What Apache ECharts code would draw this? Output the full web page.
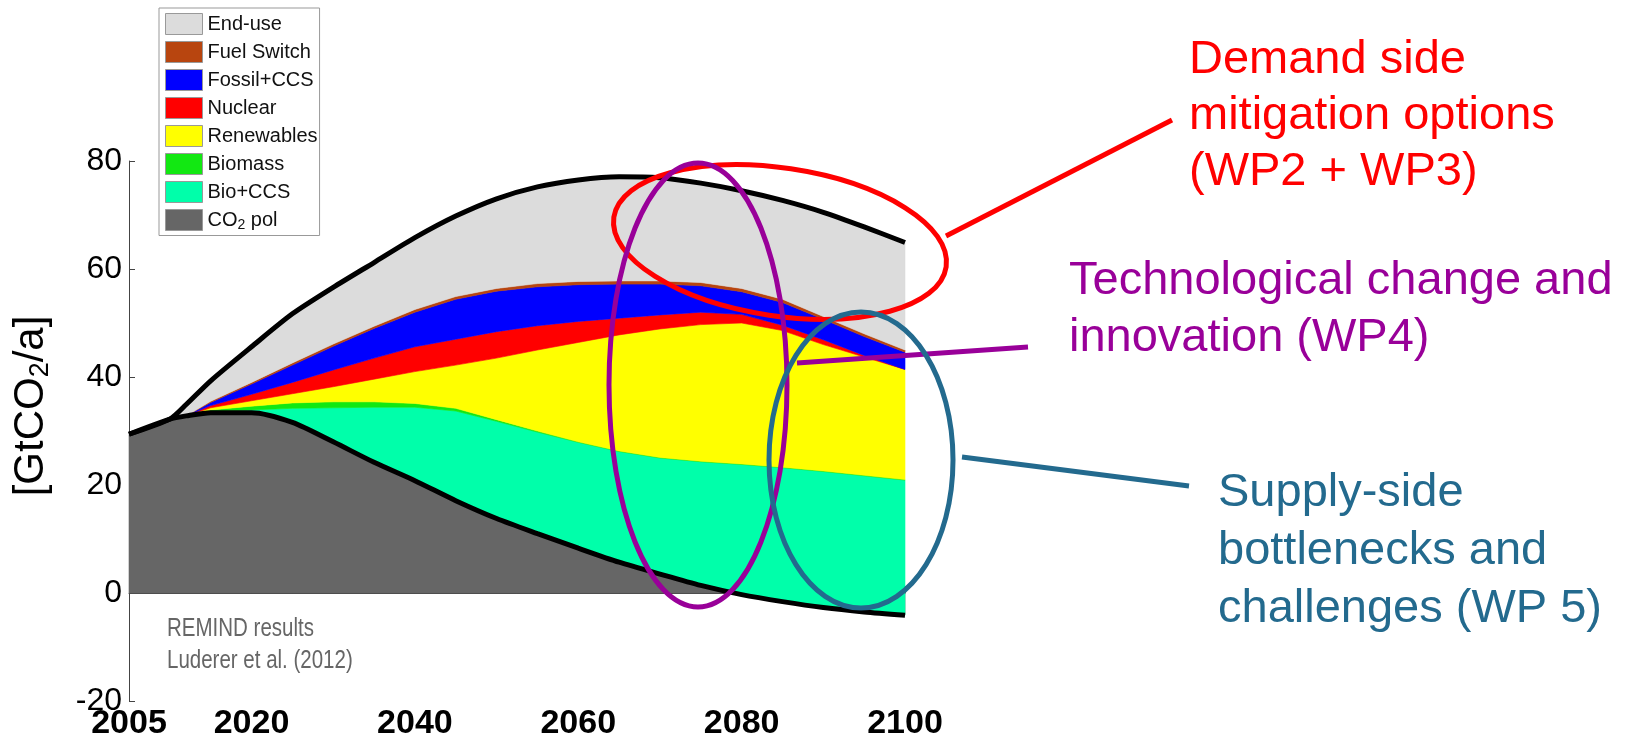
<!DOCTYPE html>
<html>
<head>
<meta charset="utf-8">
<script src="https://cdn.jsdelivr.net/npm/echarts@6/dist/echarts.min.js"></script>
<style>
  html, body { margin: 0; padding: 0; background: #fff; }
  #chart { width: 1639px; height: 742px; }
</style>
</head>
<body>
<div id="chart"></div>
<script>
// years of the REMIND scenario (irregular so the wedges can fan out at 2012)
const years = [2005, 2010, 2012, 2015, 2020, 2025, 2030, 2035, 2040, 2045, 2050,
  2055, 2060, 2065, 2070, 2075, 2080, 2085, 2090, 2095, 2100]

// upper boundary of every wedge, GtCO2/a
const co2Pol      = [29.4, 32.2, 32.8, 33.4, 33.4, 31.6, 28.0, 24.2, 20.8, 17.1, 13.8, 11.0, 8.3, 5.7, 3.5, 1.4, -0.3, -1.6, -2.7, -3.5, -4.1]
const bioCcsTop   = [29.4, 32.2, 32.8, 33.6, 33.9, 34.2, 34.3, 34.4, 34.4, 33.7, 31.8, 29.8, 27.9, 26.2, 25.0, 24.3, 23.8, 23.2, 22.5, 21.7, 20.9]
const biomassTop  = [29.4, 32.2, 32.8, 33.9, 34.6, 35.2, 35.4, 35.4, 35.1, 34.2, 32.1, 30.0, 28.0, 26.3, 25.1, 24.4, 23.9, 23.3, 22.6, 21.8, 21.0]
const renewTop    = [29.4, 32.2, 32.8, 34.3, 35.6, 36.9, 38.2, 39.6, 41.0, 42.2, 43.5, 45.0, 46.4, 47.8, 48.9, 49.7, 50.0, 48.6, 46.0, 43.7, 41.4]
const nuclearTop  = [29.4, 32.2, 32.8, 34.7, 36.8, 39.0, 41.3, 43.5, 45.6, 47.0, 48.4, 49.5, 50.3, 50.9, 51.5, 52.0, 51.6, 49.6, 46.9, 44.0, 41.4]
const fossilTop   = [29.4, 32.2, 32.8, 35.3, 38.7, 42.2, 45.7, 49.0, 52.0, 54.4, 55.9, 56.7, 57.1, 57.2, 57.2, 56.9, 55.8, 53.8, 50.7, 47.5, 44.6]
const fuelTop     = [29.4, 32.2, 32.8, 35.5, 39.0, 42.6, 46.1, 49.4, 52.5, 54.9, 56.4, 57.3, 57.7, 57.8, 57.8, 57.5, 56.4, 54.4, 51.2, 48.0, 45.0]
const baseline    = [29.4, 32.2, 34.9, 39.3, 45.6, 51.7, 56.6, 61.2, 65.8, 69.8, 73.0, 75.2, 76.5, 77.1, 76.9, 75.9, 74.5, 72.7, 70.5, 67.8, 64.9]

const xTicks = [2010, 2020, 2030, 2040, 2050, 2060, 2070, 2080, 2090, 2100]
const xLabels = [2005, 2020, 2040, 2060, 2080, 2100]
const legendNames = ['End-use', 'Fuel Switch', 'Fossil+CCS', 'Nuclear', 'Renewables', 'Biomass', 'Bio+CCS', 'CO2 pol']

const zero = years.map(() => 0)
// bottom to top
const bands = [
  { name: 'CO2 pol', lo: zero, hi: co2Pol, color: '#666666' },
  { name: 'Bio+CCS', lo: co2Pol, hi: bioCcsTop, color: '#00ffaa' },
  { name: 'Biomass', lo: bioCcsTop, hi: biomassTop, color: '#12e812' },
  { name: 'Renewables', lo: biomassTop, hi: renewTop, color: '#ffff00' },
  { name: 'Nuclear', lo: renewTop, hi: nuclearTop, color: '#ff0000' },
  { name: 'Fossil+CCS', lo: nuclearTop, hi: fossilTop, color: '#0000ff' },
  { name: 'Fuel Switch', lo: fossilTop, hi: fuelTop, color: '#b8450f' },
  { name: 'End-use', lo: fuelTop, hi: baseline, color: '#dcdcdc' }
]

const FONT = '"Liberation Sans", Arial, sans-serif'

function bandSeries(b) {
  return {
    name: b.name,
    type: 'custom',
    silent: true,
    itemStyle: { color: b.color },
    data: [[years[0], b.hi[0]]],
    renderItem(params, api) {
      const pts = []
      years.forEach((y, i) => pts.push(api.coord([y, b.hi[i]])))
      for (let i = years.length - 1; i >= 0; i--) pts.push(api.coord([years[i], b.lo[i]]))
      return {
        type: 'polygon',
        shape: { points: pts },
        style: { fill: b.color, stroke: b.color, lineWidth: 0.6 }
      }
    }
  }
}

function blackLine(name, vals) {
  return {
    name: name,
    type: 'line',
    silent: true,
    symbol: 'none',
    smooth: 0.25,
    z: 3,
    lineStyle: { color: '#000', width: 5 },
    data: years.map((y, i) => [y, vals[i]])
  }
}

const chart = echarts.init(document.getElementById('chart'))

chart.setOption({
  animation: false,
  backgroundColor: '#fff',
  grid: { left: 129, right: 734, top: 161, bottom: 41 },
  legend: {
    data: legendNames,
    orient: 'vertical',
    left: 159,
    top: 8,
    icon: 'rect',
    itemWidth: 37,
    itemHeight: 21,
    itemGap: 6,
    itemSpacing: 5,
    padding: [5, 2, 3, 6],
    backgroundColor: '#fff',
    borderColor: '#999',
    borderWidth: 1,
    itemStyle: { borderColor: '#999', borderWidth: 1 },
    selectedMode: false,
    formatter: name => name === 'CO2 pol' ? '{n|CO}{s|2}{n| pol}' : name,
    textStyle: {
      fontFamily: FONT,
      fontSize: 20,
      color: '#111',
      rich: {
        n: { fontFamily: FONT, fontSize: 20, color: '#111' },
        s: { fontFamily: FONT, fontSize: 14, color: '#111', padding: [11, 0, 0, 0] }
      }
    }
  },
  xAxis: {
    type: 'value',
    min: 2005,
    max: 2100,
    splitLine: { show: false },
    axisLine: { lineStyle: { color: '#444', width: 1 } },
    axisTick: { inside: true, length: 7, customValues: xTicks, lineStyle: { color: '#444' } },
    axisLabel: {
      customValues: xLabels,
      formatter: v => String(v),
      margin: 6,
      color: '#000',
      fontFamily: FONT,
      fontWeight: 'bold',
      fontSize: 34
    }
  },
  yAxis: {
    type: 'value',
    min: -20,
    max: 80,
    interval: 20,
    splitLine: { show: false },
    axisLine: { show: true, lineStyle: { color: '#444', width: 1 } },
    axisTick: { show: true, inside: true, length: 6, lineStyle: { color: '#444' } },
    axisLabel: { color: '#000', fontFamily: FONT, fontSize: 32, margin: 7 }
  },
  series: bands.map(bandSeries).concat([
    blackLine('baseline', baseline),
    blackLine('emissions', co2Pol)
  ]),
  graphic: [
    {
      type: 'text', x: 31, y: 406, rotation: Math.PI / 2,
      style: {
        text: '{a|[GtCO}{s|2}{a|/a]}',
        align: 'center', verticalAlign: 'middle',
        rich: {
          a: { fontFamily: FONT, fontSize: 42, fill: '#000' },
          s: { fontFamily: FONT, fontSize: 27, fill: '#000', padding: [20, 0, 0, 0] }
        }
      }
    },
    {
      type: 'text', x: 167, y: 617, scaleX: 0.82,
      style: { text: 'REMIND results', fontFamily: FONT, fontSize: 25, fill: '#666' }
    },
    {
      type: 'text', x: 167, y: 649, scaleX: 0.82,
      style: { text: 'Luderer et al. (2012)', fontFamily: FONT, fontSize: 25, fill: '#666' }
    },
    // annotation ellipses and leader lines
    {
      type: 'ellipse', x: 780, y: 242, rotation: -0.148, z: 10,
      shape: { cx: 0, cy: 0, rx: 168, ry: 74 },
      style: { fill: 'none', stroke: '#ff0000', lineWidth: 5 }
    },
    {
      type: 'line', z: 10,
      shape: { x1: 946, y1: 236, x2: 1172, y2: 120 },
      style: { stroke: '#ff0000', lineWidth: 5 }
    },
    {
      type: 'ellipse', x: 698, y: 385, z: 10,
      shape: { cx: 0, cy: 0, rx: 89, ry: 222 },
      style: { fill: 'none', stroke: '#990099', lineWidth: 5 }
    },
    {
      type: 'line', z: 10,
      shape: { x1: 797, y1: 363, x2: 1028, y2: 347 },
      style: { stroke: '#990099', lineWidth: 5 }
    },
    {
      type: 'ellipse', x: 861, y: 460, z: 10,
      shape: { cx: 0, cy: 0, rx: 92, ry: 148 },
      style: { fill: 'none', stroke: '#236a8e', lineWidth: 5 }
    },
    {
      type: 'line', z: 10,
      shape: { x1: 962, y1: 457, x2: 1189, y2: 486 },
      style: { stroke: '#236a8e', lineWidth: 5 }
    },
    {
      type: 'text', x: 1189, y: 116, z: 10,
      style: {
        text: 'Demand side\nmitigation options\n(WP2 + WP3)',
        fontFamily: FONT, fontSize: 47, lineHeight: 56, fill: '#ff0000',
        verticalAlign: 'middle'
      }
    },
    {
      type: 'text', x: 1069, y: 310, z: 10,
      style: {
        text: 'Technological change and\ninnovation (WP4)',
        fontFamily: FONT, fontSize: 47, lineHeight: 57, fill: '#990099',
        verticalAlign: 'middle'
      }
    },
    {
      type: 'text', x: 1218, y: 551, z: 10,
      style: {
        text: 'Supply-side\nbottlenecks and\nchallenges (WP 5)',
        fontFamily: FONT, fontSize: 47, lineHeight: 58, fill: '#236a8e',
        verticalAlign: 'middle'
      }
    }
  ]
})
</script>
</body>
</html>
